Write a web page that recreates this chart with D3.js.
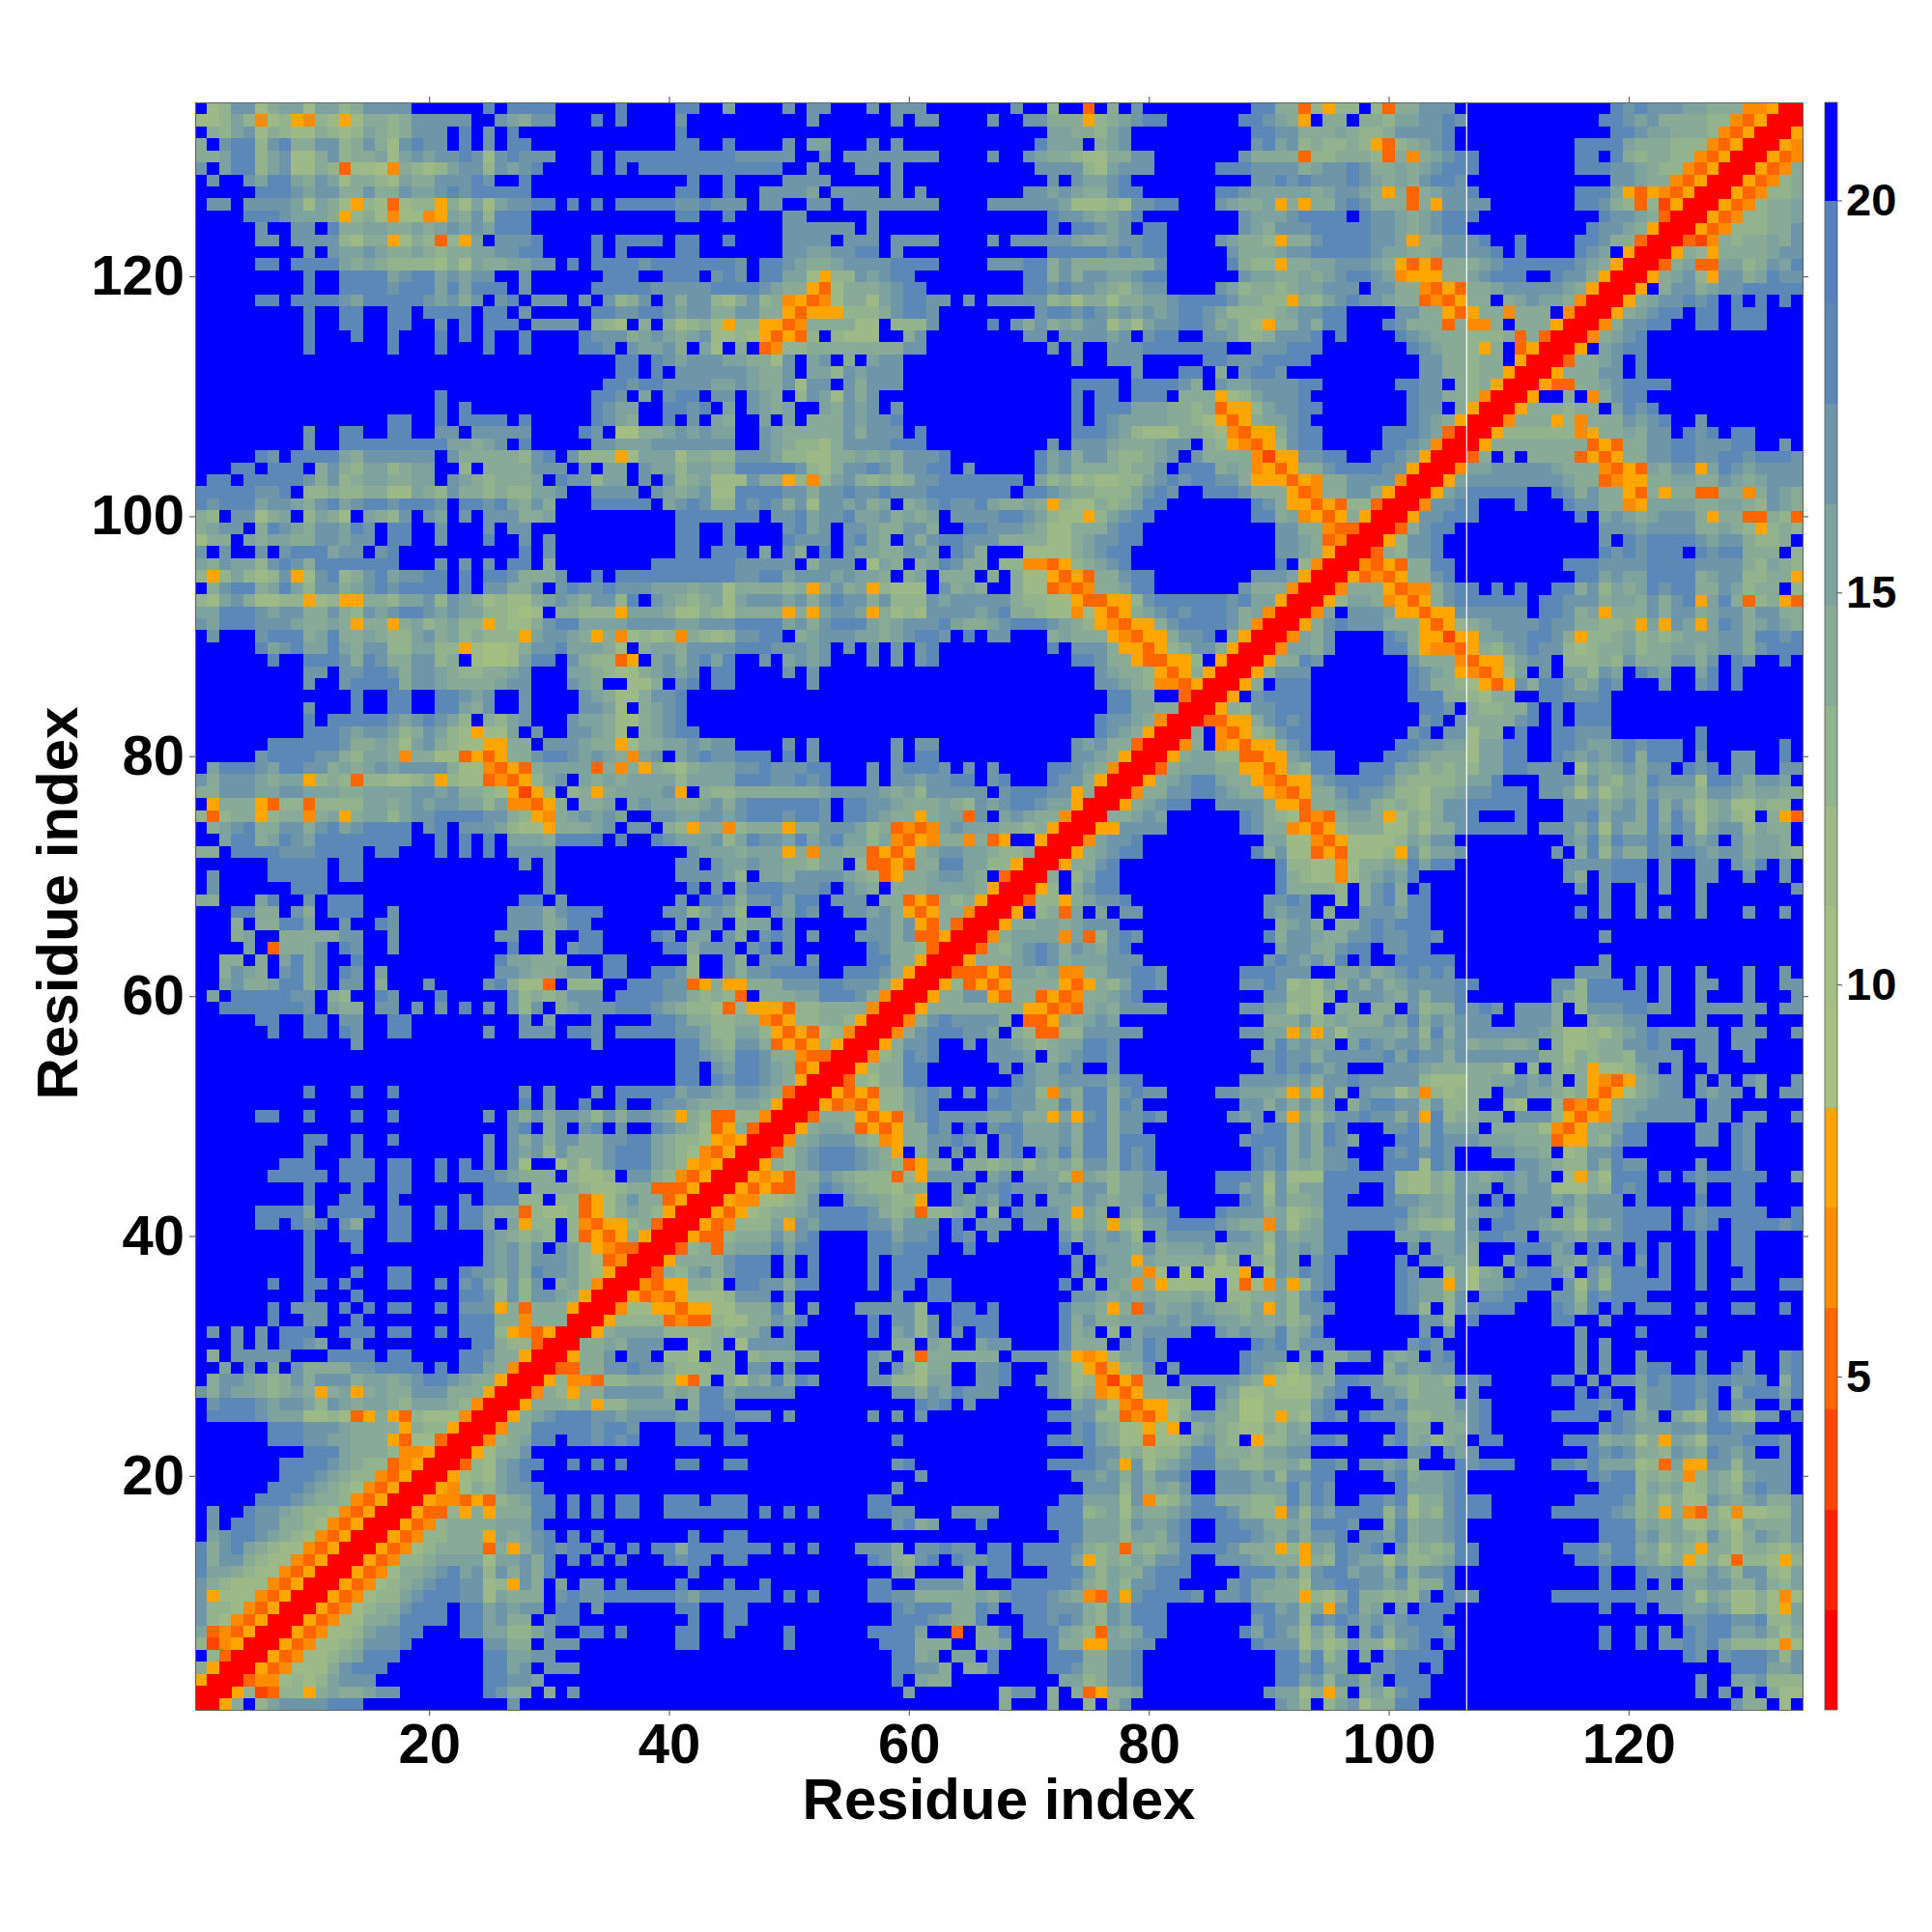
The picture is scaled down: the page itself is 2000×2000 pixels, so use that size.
<!DOCTYPE html>
<html><head><meta charset="utf-8">
<script src="https://cdn.jsdelivr.net/npm/d3@7/dist/d3.min.js"></script>
<style>html,body{margin:0;padding:0;background:#fff}svg{display:block}text{font-family:"Liberation Sans",Arial,sans-serif;font-weight:bold;fill:#000}</style>
</head><body><div id="c"></div>
<script>
// level codes per cell (0-f), one row per residue from 134 down to 1, columns 1..row; the plot is symmetric
const levelRows = [
"f89cc 8abb8 bb9ac cccff ffffd fdddd fffff dffff ddffb|ffffc fccff fcfcc cffff fffcf f9ff3 fafcf fffff fffdd|aa395 99f93 aaccc fffff fffff fffdc dcccb baaa4 4500",
"889b9 48954 9858a a9acc cccff cbacc fffdf dffff cffff|fffff fcfff fffcf ccfff fcffc caaa5 9abcd dffff ffddc|ba5fa afaa9 bbccd cffff fffff ffddc bcaaa a9943 500",
"fa9bc 8a988 a989b a9acc cfdfc fdfff fffff fffff dffff|fffff fffff fffff fffff fffff fbbaa 9bcff fffff fffdd|ccaaa ba99a ccccd fffff fffff fffdd cbbaa a9435 00",
"afcdd 9cdaa cc9ac a8cdc cfdfc fddff fffff fffff ddffd|ffffc fbbff fcfcf fffff fffff dbbbf abcff fffff fffcd|bc9a9 9a953 9abcd fffff fffff ddddb aaa99 94350 0",
"aabdd 9bc88 ac9aa b8bcb ccdc8 cdccc fffdf ddddd ddddd|ccccc ffcfc ccccc ccfff fcffc baa98 8aacc fffff ffcaa|aa399 aaa93 a4abc ddfff fffff ddfda 9aa99 43500",
"cfbdd 9bc88 a9388 74a98 9bcc9 cbcdf fffdf dfddd ddddd|ddddf fcfff ccfcf fffff fffff cccc9 8bccc fffff dddcc|ccabc cdcaa babcd ddfff fffff dddcc ba994 3500",
"fcffc bddba cb8aa 98baa cccdc ffdff fffff fffff fdffd|ffffc cccff fffcf fffff fffff fcfcb bcdff fffff fffcc|dcdcc cdcba bacdd cffff fffff fffcc baa43 500",
"fffff dddcb ccaac aacbb cdcdd dddff fffff fffff ddffd|ffccc cbfcc ccfcf cffff ffffc cbcba acddf fffff ddcbb|bbbab ccba5 a3abc cdfff fffff dddb5 35435 00",
"fccfc cccb8 ba859 83899 5a8b8 bccdd fdfdf ddddd ccdcc|cfccf fccfc ccccc ccfff fcccc ccb88 898cc ddfff cbaab|5a5aa cdcaa a3a5c cccff fffff ddca9 39250 0",
"ffffd ddcbb ba59a 84884 5bac9 dddff fffff fffff ddffd|ffffc cffff fcfff fffff fffff fdccb abcdf fffff ffcbb|bcddd dfdcc babcd ddfff fffff ffdcc ba300",
"fffff cffcc fdaab baaba bcbcb dddff fffff fffff fffff|ffffc ccccc fcfff fffff fffff fdfdd cbcfd dffff ffcba|cccdd dddcc babcd dffff fffff fdccb a500",
"fffff ccfcc cc98a a58a9 395bf cccdf fffdf ddddf ddffd|ffffc cccfc ccfcc ccfff fcfcc cccba abccd dffff cbaa9|5aacd dddcc b5aac ccdff dffff ddcaa 300",
"fffff ffffc fcbbc baaba 9aabb ccddf fffdf dffff ddfff|ffffc cbbcc ddfcf fffff fffff fdddd dcdcd dffff fcaaa|bccdd dddcb baabc cccdf dffff dcbf5 00",
"fffff ddfdd ddbab a9999 8a8ba abbcc fdfdd ddcdd ddddd|cfddc baabc cccdd ddfff fcccd dacaa aaaaa cffff fda99|5aabb cccba 5353a aabcd ddddd cba50 0",
"fffff ffffd ffddd dbcdd bcbcc ffcff ffffd ddffd ddfcd|cfddb b8599 cbcdd fffff ffffd dacac cbbcd dffff ffcbb|aabab cddcb 4555a abcdd dffdc ca500",
"fffff ffffd ffddd dcddd bdbdd dfcff fffdd dddcc cccdd|ddcba a538a aabcd dffff ffffd dcdcc ba9bc cffff cb9aa|9abbc ccfcc aa435 3aabc ccccb a500",
"fffff ddfdd ddcbd ddddc bcacf cdfcc cfcfc 9acfc acc98|ac9a4 5348a a8bcd dccfc fcccc c9a8a a8aab bcddd dcaa9|95a9b cdccb aa343 5aafa bcbba 400",
"fffff ffffd ffddf fddfd dddfd dfcff fffdd ccddc bccaa|ccaa5 35559 99acd dcfff fffff cddcd cbcbc bcddc b9999|abccd dffff ccaa5 35aa4 aaaf4 00",
"fffff ffffd ffddf fddff cfdfd ddfcc ccfa9 8fafa 89a85|99553 4aaaa 88f99 9cfff fdfca cabac c8a8b ccddc ab985|aacad dfffd caaa3 a44af aaa50 0",
"fffff ffffd fffdf fdfff dfdfd ffdff ffdcc cabcb abc88|98535 39f98 88ffa cffff ffffc cfccc cbcfc ddffc cb99a|cccdf dffff dcbaa a999a 3a300",
"fffff ffffd fffff fdfff dfffd ffdff ffddc fcbbc afb8f|af349 9aaaa aaaac cffff fffff fcfcf fcccd ddddd dffcc|cdddf fffff fdcba a95af 3500",
"fffff fffff fffff fffff fffff fffff fffff ddfdc bcccb|baa8c fbcfa fbccf fffff fffff fffcf fcccf ffffd dcccd|dddff fffff ffcca a9aaf 500",
"fffff fffff fffff fffff fffff fffff fffff ddfdf ccccc|cbaac fbb9c bcccf fffff fffff fffff fffcf ffddf afcdd|cffff fffff ffcca a9aa5 00",
"fffff fffff fffff fffff fffff fffff ffffd dcddc cccbb|cbaac 8ccfc acccf fffff fffff fffdd ddfdd ddcaf cbbcc|ccddf fffff ddccf a9a50 0",
"fffff fffff fffff fffff dffff fffff fffdd cfbfc ddfcc|fcbaf 9cb8c acfff fffff fffff fffdf ddfdd dfaaa 589bc|ccdff fffff fdcca a9400",
"fffff fffff fffff fffff dfdff fffff fffdc bbffd dcdfb|fcbab ffbac bcfcf fffff fffff fffdf dddbb baa9a 3559b|ccddf fffff fdccf a500",
"fffff fffff fffff fddff dfddd dfdff fffdc baffd fcfba|ffbfb faaac bccdf fffff fffff fffdf dcbbb baa98 535ab|bcdff fffff fdcba 500",
"fffff ffffc ffddf fddff ccfcc cccff ffdcf 77aab cbcbb|ffcba aaaac acccf dffff fffff fffdd dcb98 88aa9 84355|acddf ffffd ddcb3 00",
"fffff ffffc ffddd ddddd dbbab cfdff fffcc bbbcc ccccc|ffcba 998ac cccdd dffff fffff fcfcc cbaaa bccfa 95435|9cddf ffffd dcb40 0",
"fffff dcfdd ddbac ccccc fcaaa aa9cd fc999 58bbb 8aa99|cccb9 988aa babac ccdff fffff dbcac ca99a bcfca aaa42|55ccd dffdd cb500",
"fffdd fdddf aca9b b9abb ff9fa aaacc cfcfb bfcbb 9bbaa|ddddd c98ac cdcac cddfc fffff dbcaa aa9aa cfddd aba45|35aac ddddc c500",
"fddfd ddddc ac9ab baabb fcba9 aaabf dcc9b bfcfc 9ab88|8caa5 949bc a9a9a ccddd ddddf b9a89 8899b cdcdd cca55|5354a acccc 400",
"ddddd ccdf9 9a99a a88ba 9caa9 a99bb cffcc ccfcb abc88|ddddc caccd ccdcc cdddd dddfd dcbaa 999bc dcffd ddcaa|a534a acca5 00",
"dcddd bccba cdbcd dcddd cfddc dbaca fffdd dddfb cdc99|dcdca c8ccb cabfa bcdcc dbaab a5988 a9abd dffff fffdc|a5535 39930 0",
"a9fcc 8abf9 ba8fb a9cfc bfcfc ccaab fffff fffff ddddd|ddfcc dbccd bbcab abfcc ccddc b9885 9bcdd fffff fffdd|ab453 5a500",
"abccf adcba ccbdc fddff cfffc fccff fffff fffff ddffd|ffffc dbcfc cbaac caffd dcccb a88aa acddf fffff fffff|ccaa4 3300",
"8aafb abbaa ccbcc fddff cfffd ffcfc fffff fffff ddffd|ffffd cccfc dbafc acddc ccaaa a88ab ccddf fffff fffff|ccba3 400",
"cfcff cfcdd dbccf cdfff fffff ffdfc fffff fffff ddfdd|dfbfc afdfc bbaac cbfdc afff8 888ab cddff fffff fffff|ccba5 00",
"bacbb 9cdca ddddd ddfff cfcfc fddfa fffff fffdd ddddd|ccccc faccc f8baf abdca af994 4359a bcdff fffff fffff|df940 0",
"959b9 89c58 cd9ac dbccd dfdfd dcaaa cffdf ddddd ddddd|ccddb cccbc bbafa bfaaa fafa8 85353 aacdd fffff fffcc|cb500",
"facdd abdb9 ccabc dcddd dfdfc caacf cdccd cccbb babb8|aaaa9 a5aca b5988 8fcab affa8 83434 aabdd fffff ffcaa|a400",
"98bca 88995 8955a a9bbc 9cba8 988ab cbacc 9dfcb a9ab8|bcccb cacdc cac99 9cbcc ccca9 98853 3559c ddddd dcdbb|500",
"bbddd cbcca aca9c bcddc bcbb9 9878f aa999 5bbba 88a98|aaaa5 a5bcc b5a89 8cccc bcdaa 98848 535ab cdcdd dcab4|00",
"cbddd cccba aba5a a5ab9 ab995 988ac ddbbb bcccc bbccc|ddddb cacdd dbabc ccdba abcdd dcba9 54355 acddd dca40|0",
"fcfff cddda bdaab a99bc ab9a9 995bc cba5a 48989 4a989|ccddf abccc bbabc ddcfd fccff fabaa a5435 5accd fa500",
"fffff dbcdb bdbac c99bb 99587 78acc dbbba 8fabb acccc|dddcc cbcfc fcfcf cdfff fffff fdfcc ca553 59acc a500",
"fffff fdffd ddcad caacc 9af87 78bdd fca99 35fbc acdbd|ffcfb cbcff fcfcf cdfff fffff fffdd caa53 3559f 500",
"fffff ffffc cfccd dcacc ba99a abcff fbba9 88abc bcfdd|ffffc fcfff fffff fffff fffff fffff cbaa9 535a5 00",
"fffff ffffc ffcdd ddacc baaaa bccff fcbaf f88af cdfdd|fffff fcfff fffff fffff fffff fffff ccba9 44350 0",
"fffff fffff fffdf fddff ddcbc ffcff ffcba 88acc dffff|fffff fffff fffff fffff fffff fffff fddbb ff300",
"fffff ffffc fffdf fddff ddbac ffcff ffccb 8fabc dffff|fffff fffff fffff fffff fffff fffff fddbb aa00",
"fffff ffffd fdddd dcbcd cb9fa 9bcff fcbba 88abc dffff|fffff fffff fffff fffff fffff fffff dccba 400",
"fffff ffffd ddcbc cb9ac b9858 8bfcf fccba 8fabc ddfff|fffff fffff fffff fffff fffff fffff dcba5 00",
"fffff fdddd ddcaa ba8bc a9885 5aafc ccbaa 58aab bcbcc|ffffc fcfff fffcf ccfff fffff fffcb caa30 0",
"fffff cdddd cca9b ba4aa 88353 5aacd dcbcb a4bcf bcdcc|dddfd fcfff fffcf ddfff fffff fffcc ba500",
"fbddd cbddc cabab cbccc ca884 353ab bbb3a 4a5a9 8abbb|ccdcc cddff fcfcd ddcfc fcfff fddcb a400",
"cacc c babb5 9a939 9889a 59883 4359b cfbab abbbb 9bbbb|dddcc dcdff fcfcc bccdd fcdff fdcca 500",
"aaccc bbccb bbaab bbbcc bcaa9 85259 f9a5a bbbbc 5fa99|aaaaa aabcc ccbab 9cccc cfcdd dcc5a 00",
"f5aaa 53993 9999b babcb ccbb9 b4435 afaab fbcbb aabca|cdddd ddcfd dccba aaba9 cbcdd cbb50 0",
"939aa 59aa4 ab5ab b9bcc ddddc ca954 abcbc bffcc bbccb|cdddc ddcfd dcbaa 5abb3 cfbcb aa400",
"fabcd aacca cdbcd dddfc dfccc b9885 aaabc fccfa 95aa4|9aaa5 aaccc b9a34 34bcb bbaa9 a500",
"ffbdd abdcb ddddd dddff dfdfd fbbba ddddf dffdc bbbc9|bdccb dbcdb b9b43 54aa4 a35ff 500",
"aafdd ddccc ddddf ddfff dfdfd fcccc fffff fffff fcbbb|abbb5 a4bba a3535 abccb ba99a 00",
"fffff fdddd dfddf fffff fffff ffcfc fffff fffff ccfcb|bcbba a9bbf 93353 aaddb b9950 0",
"fcfff fdddd dfddf fffff fffff ffffc fffff fffff ccccb|9fbba ccccb a935a abccb af300",
"fcfff fffdd dffff fffff fffff ffffc fffff fffff fdfcf|bdddc ccdfc bafaa abbbb a500",
"aafff bdffc fdddf fffff fffff ffddf cffff fffff cfddc|accdb ddfcc cfaa3 53a9a 500",
"fffdd aafca fdddf fcfff fffff fccca cdddf ffffc c9bcb|9ffcb dcffc cbca5 35aa4 00",
"fffaf aaddb ffcff dcfff fffff fccca bddff fffff cfccf|abbfc fffff fccac 53a30 0",
"fffab ffaaa aaccf fcfff fffff ccffa ffddf fffdc fbbfc|afcdc fcfff cccac 33500",
"ffffb f3aaa cfdcf fcfff fffff fdffa fcddf ffffd daccc|fcdfc fffff fdcaa 9300",
"ffaaf afbda cffdf fffff fffff dbbaa afffd dffff f9ffc|afccc fcfff fddaa 500",
"ffacb afcda cfdcf bffff fffff ccbaa bccfd dffdd c9ffc|accdd ddffd ddca5 00",
"ffbca abdda cfccf afffc ffffc da883 f999f fdddc c35a5|5aaac ccddc cca50 0",
"fbfdd dddcc fa9ff dcfff dffff fc9a9 acccf ddddc ca9a9|3faaa bbddd ca400",
"ffddd ddddc fbaaf ccfcf cfdfc fc9cf abccc dddcb a9983|95553 99aaa a400",
"fffff ddffd dfccf fddff fffff ffcfb fffcf fffdd caa99|aa435 99aa9 500",
"fffff fdffd dfdcf fddff ffffc ffccc fddcf ddddd ccb99|bb953 53894 00",
"fffff fffff fffcf fffff fffff fffff fffcf fffff ddba9|cca35 35950 0",
"fffff fffff fffff fffff fffff fffff fffff fffff ddcba|ddcaa 43300",
"fffff fffff fffff fffff fffff fffff fffff fffff ddfcb|ddcba 3500",
"fffff fffff fffff fffff fffff fffff fffff fffff ddfdc|ddcba 500",
"fffff ffffd fffdf fdfff fffff ffcfc fffcf ddddd bccba|ccba3 00",
"fffff fffff fffff fffff fffff ffdfc ffdff dffdc cbaaa|bba50 0",
"fffff ddffd fffdf fdfff ffffc fcaca ccb9c accba 5a933|99400",
"fffff fffff fffff fffff fffff fcdfa cfcdf cffdc ba835|a300",
"fffff ffffd dffdf fdfff ffffc fcaca ccaac cddba 99854|500",
"fffff ffffd fffdf fffff ffffc fcbc9 caaac dddba 98435|00",
"fffff ffddd ffddd fddff dfdfc fc8ff 8a8ac dddba 95450|0",
"fffff fdddd dfddd fddff dfddd cbaaa f9889 fcca9 43500",
"fffff ffffd fffdf fddff ffffd ddfaa aa988 9aa33 3500",
"fffff ffffd ffddf fdfff ffdfd dd99f 99358 acaa3 500",
"fffff ddddb fdddd fddff dfddb aa398 89358 aba95 00",
"fffff ddfdc dfcaf fddff dfddb fb599 f9435 59a30 0",
"fffff ffffd ffddf fddff ffffc ba9a9 f9353 5a500",
"fffff ffffd fffdf fffff ffffc bcacf cb954 3300",
"fffff ffffd fffff fffff ffffc bcacc cb983 400",
"fffff ffffd fffdf fddff ffdcc bcadc cb985 00",
"fffff fdffd dfdff fddff dfcdb 9c9cf ab940 0",
"fffff ffffd fffdf fffff ffddc 9c9cc ba500",
"fffff fdfcc cfdfd fddff dfccc 5a3aa a500",
"fffff fdffc cffdf fffff ffddd aa4aa a00",
"fcfcf cfddd ffddd fddff dfddd 95435 00",
"fffcf cfddc bffcf fffff fffdd a9930 0",
"fafcc cccff fdddd fddff ffddc aa500",
"ffbfc fbfca aaacc ddddf dfddb a400",
"faccb a9aca cccab babcd dcbaa 500",
"cacbb a9aba 5ab5a baacc caaa5 00",
"fcddd cbccb 9cbab ba9bb ba940 0",
"fdddd cbbb8 89835 a5398 88400",
"fffff fdddc ccbaa aa5a9 9500",
"fffff fdddc cbbaa a5388 300",
"fffff ffffd ddbaa a9445 00",
"fffff ffddd dcba9 93450 0",
"fffff ffddd cba99 43500",
"fffff fdddc ba984 3500",
"fffff dddcb aa943 500",
"fcffd ccba9 98435 00",
"fcfdd ccaa9 84350 0",
"fbcdd cba98 43500",
"dacdb a9884 3500",
"dacca 98843 500",
"dbba9 88435 00",
"ca988 84350 0",
"c5888 43500",
"c9984 3500",
"c9843 500",
"b3435 00",
"92450 0",
"f9300",
"a500",
"500",
"00",
"0"
];
const residueCount = 134;
const levelColors = ["#ff0000","#ff2000","#ff4500","#ff6600","#ff8c00","#ffa500",
  "#a8c080","#a4be82","#9cb987","#93b28e","#88aa96","#7ea29d","#6e96a8","#5c88b8","#5582bd","#0000ff"];
const levelBreaks = [0.75,2.03,3.31,4.59,5.88,7.16,8.44,9.72,11,12.28,13.56,14.84,16.13,17.41,18.69,20,21.25];
const axisTicks = [20,40,60,80,100,120];
const colorbarTicks = [5,10,15,20];
const gapPosition = 106.5;
const axisTitle = "Residue index";

const L=202,R=1866,T=106,B=1770,barL=1889,barR=1902;
const tileLens=[45,45,44];
const cells=[];
levelRows.forEach((s,i)=>{
  const row=residueCount-i; let col=0, out="";
  s.split("|").forEach((t,k)=>{
    const clean=t.replace(/ /g,"");
    out+=clean.slice(0,tileLens[k]).padEnd(tileLens[k],"f");
  });
  for(let c=1;c<=row;c++){
    const v=parseInt(out[c-1],16);
    cells.push({x:c,y:row,v});
    if(c!==row) cells.push({x:row,y:c,v});
  }
});
const x=d3.scaleLinear().domain([0.5,residueCount+0.5]).range([L,R]);
const y=d3.scaleLinear().domain([0.5,residueCount+0.5]).range([B,T]);
const cw=x(2)-x(1);
const svg=d3.select("#c").append("svg").attr("width",2000).attr("height",2000).attr("viewBox","0 0 2000 2000");
svg.append("g").attr("shape-rendering","crispEdges").selectAll("rect").data(cells).join("rect")
  .attr("x",d=>x(d.x-0.5)).attr("y",d=>y(d.y+0.5))
  .attr("width",cw+0.4).attr("height",cw+0.4).attr("fill",d=>levelColors[d.v]);
svg.append("line").attr("x1",x(gapPosition)).attr("x2",x(gapPosition)).attr("y1",T).attr("y2",B)
  .attr("stroke","#fff").attr("stroke-width",1.2);

function style(g,size){
  g.selectAll("path,line").attr("stroke","#666").attr("stroke-width",1.2);
  g.selectAll("text").attr("font-size",size).attr("font-weight","bold").attr("fill","#000")
   .attr("font-family",'"Liberation Sans",Arial,sans-serif');
}
svg.append("g").attr("transform",`translate(0,${B})`).call(d3.axisBottom(x).tickValues(axisTicks).tickSize(6).tickSizeOuter(0).tickPadding(8)).call(style,58);
svg.append("g").attr("transform",`translate(${L},0)`).call(d3.axisLeft(y).tickValues(axisTicks).tickSize(6).tickSizeOuter(0).tickPadding(5)).call(style,58);
svg.append("g").attr("transform",`translate(0,${T})`).call(d3.axisTop(x).tickValues(axisTicks).tickSize(6).tickSizeOuter(0).tickFormat("")).call(style,58);
svg.append("g").attr("transform",`translate(${R},0)`).call(d3.axisRight(y).tickValues(axisTicks).tickSize(6).tickSizeOuter(0).tickFormat("")).call(style,58);

svg.append("text").attr("x",(L+R)/2).attr("y",1883).attr("text-anchor","middle").attr("font-size",60).text(axisTitle);
svg.append("text").attr("transform",`translate(80,${(T+B)/2-3}) rotate(-90)`).attr("text-anchor","middle").attr("font-size",60).text(axisTitle);

const c=d3.scaleLinear().domain([levelBreaks[0],levelBreaks[16]]).range([B,T]);
svg.append("g").attr("shape-rendering","crispEdges").selectAll("rect").data(levelColors).join("rect")
  .attr("x",barL).attr("width",barR-barL)
  .attr("y",(d,i)=>c(levelBreaks[i+1])).attr("height",(d,i)=>c(levelBreaks[i])-c(levelBreaks[i+1])+0.4)
  .attr("fill",d=>d);
svg.append("rect").attr("x",barL).attr("y",T).attr("width",barR-barL).attr("height",B-T).attr("fill","none").attr("stroke","#555").attr("stroke-width",0.8);
svg.append("g").attr("transform",`translate(${barR},0)`).call(d3.axisRight(c).tickValues(colorbarTicks).tickSize(5).tickSizeOuter(0).tickPadding(4)).call(style,47)
  .select(".domain").remove();
</script></body></html>
